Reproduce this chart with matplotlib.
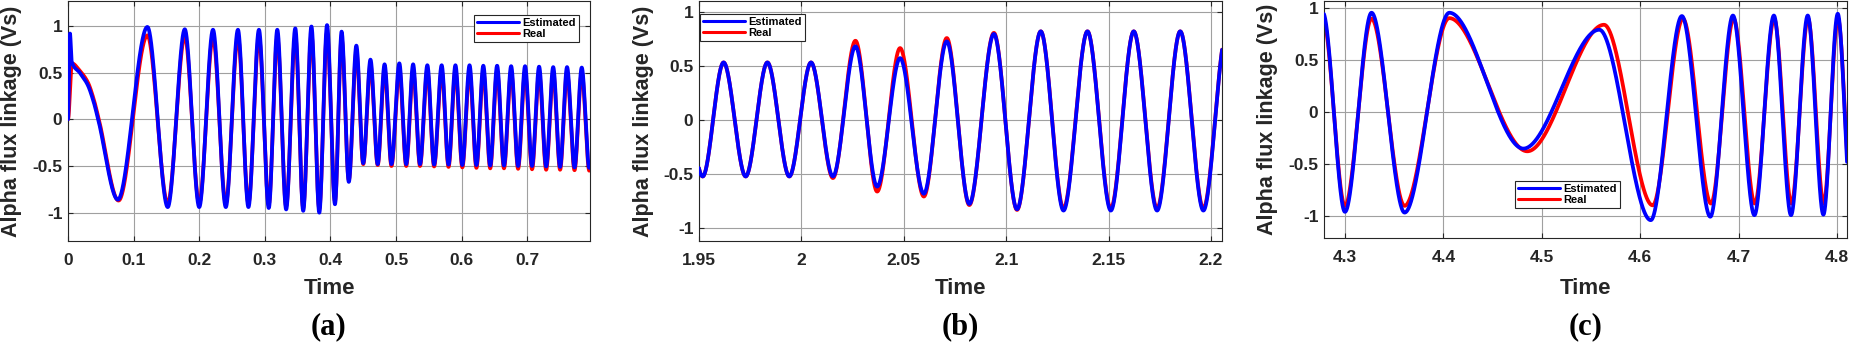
import numpy as np
import matplotlib
matplotlib.use("Agg")
import matplotlib.pyplot as plt

# ---------------- data (extrema / key points) ----------------
# Panel (a)
a_est_t = [0.0, 0.003, 0.0056, 0.018, 0.030, 0.039, 0.046, 0.076,
           0.121, 0.152, 0.178, 0.200, 0.221, 0.2405, 0.259, 0.275, 0.291, 0.306, 0.319, 0.3325,
           0.3464, 0.3585, 0.371, 0.383, 0.3948, 0.4069, 0.417, 0.428, 0.4395, 0.450, 0.461, 0.472,
           0.4825, 0.493,
           0.505, 0.5155, 0.526, 0.5365, 0.5477, 0.558, 0.5695, 0.580, 0.5905, 0.601, 0.612, 0.6225,
           0.633, 0.6435, 0.654, 0.6645, 0.6754, 0.686, 0.6966, 0.7073, 0.718, 0.7288, 0.7395, 0.750,
           0.7606, 0.772, 0.783, 0.7945, 0.806]
a_est_v = [0.0, 0.92, 0.62, 0.50, 0.37, 0.19, 0.0, -0.86,
           0.99, -0.94, 0.965, -0.94, 0.96, -0.94, 0.96, -0.94, 0.96, -0.95, 0.96, -0.965,
           0.975, -0.98, 0.995, -1.0, 1.01, -0.91, 0.94, -0.67, 0.79, -0.47, 0.64, -0.48,
           0.59, -0.48,
           0.60, -0.48, 0.59, -0.48, 0.58, -0.485, 0.58, -0.485, 0.58, -0.49, 0.58, -0.49,
           0.575, -0.495, 0.575, -0.495, 0.57, -0.50, 0.57, -0.50, 0.565, -0.505, 0.56, -0.51,
           0.56, -0.515, 0.555, -0.52, 0.55]
a_real_t = [0.0, 0.006, 0.018, 0.030, 0.039, 0.047, 0.077,
            0.121, 0.152, 0.178, 0.200, 0.221, 0.2405, 0.259, 0.275, 0.291, 0.306, 0.319, 0.3325,
            0.3464, 0.3585, 0.371, 0.383, 0.3948, 0.4069, 0.417, 0.428, 0.4395, 0.450, 0.461, 0.472,
            0.4825, 0.493,
            0.505, 0.5155, 0.526, 0.5365, 0.5477, 0.558, 0.5695, 0.580, 0.5905, 0.601, 0.612, 0.6225,
            0.633, 0.6435, 0.654, 0.6645, 0.6754, 0.686, 0.6966, 0.7073, 0.718, 0.7288, 0.7395, 0.750,
            0.7606, 0.772, 0.783, 0.7945, 0.806]
a_real_v = [0.0, 0.60, 0.52, 0.40, 0.22, 0.0, -0.87,
            0.90, -0.90, 0.89, -0.90, 0.88, -0.90, 0.88, -0.90, 0.88, -0.91, 0.88, -0.93,
            0.89, -0.95, 0.91, -0.96, 0.93, -0.88, 0.87, -0.65, 0.72, -0.48, 0.58, -0.49,
            0.53, -0.50,
            0.53, -0.50, 0.52, -0.50, 0.52, -0.505, 0.52, -0.51, 0.52, -0.515, 0.51, -0.52,
            0.51, -0.525, 0.51, -0.525, 0.51, -0.53, 0.50, -0.535, 0.50, -0.54, 0.50, -0.54,
            0.50, -0.545, 0.50, -0.55, 0.49]

# Panel (b)
b_t = [1.9407, 1.9518, 1.962, 1.9728, 1.9834, 1.9941, 2.0047, 2.0154, 2.0264, 2.037, 2.0482,
       2.0598, 2.071, 2.082, 2.094, 2.1053, 2.1169, 2.128, 2.1397, 2.1511, 2.1623, 2.1737,
       2.185, 2.1963, 2.2077]
b_est_v = [0.536, -0.52, 0.536, -0.52, 0.536, -0.52, 0.536, -0.52, 0.685, -0.614, 0.576,
           -0.68, 0.731, -0.775, 0.80, -0.824, 0.824, -0.836, 0.824, -0.836, 0.824, -0.836,
           0.824, -0.836, 0.824]
b_real_v = [0.536, -0.52, 0.536, -0.52, 0.536, -0.52, 0.536, -0.535, 0.737, -0.66, 0.669,
            -0.706, 0.762, -0.785, 0.81, -0.83, 0.824, -0.815, 0.824, -0.815, 0.824, -0.815,
            0.824, -0.815, 0.824]

# Panel (c)
c_est_t = [4.254, 4.2775, 4.300, 4.327, 4.3606, 4.4061, 4.4813, 4.5585, 4.6108, 4.6424, 4.6713,
           4.6943, 4.7161, 4.7359, 4.7533, 4.7703, 4.7862, 4.8008, 4.815]
c_est_v = [-0.95, 0.96, -0.963, 0.957, -0.97, 0.957, -0.353, 0.793, -1.043, 0.925, -1.01,
           0.93, -0.995, 0.93, -0.995, 0.93, -0.99, 0.947, -0.99]
c_real_t = [4.254, 4.2775, 4.300, 4.327, 4.3606, 4.406, 4.4853, 4.5633, 4.6127, 4.6435, 4.672,
            4.695, 4.7165, 4.7362, 4.7537, 4.7706, 4.7865, 4.801, 4.815]
c_real_v = [-0.90, 0.905, -0.905, 0.90, -0.905, 0.905, -0.379, 0.841, -0.90, 0.90, -0.883,
            0.90, -0.883, 0.90, -0.883, 0.90, -0.88, 0.905, -0.88]

a_xticks = [0, 0.1, 0.2, 0.3, 0.4, 0.5, 0.6, 0.7]
a_xlabels = ["0", "0.1", "0.2", "0.3", "0.4", "0.5", "0.6", "0.7"]
b_xticks = [1.95, 2.0, 2.05, 2.1, 2.15, 2.2]
b_xlabels = ["1.95", "2", "2.05", "2.1", "2.15", "2.2"]
c_xticks = [4.3, 4.4, 4.5, 4.6, 4.7, 4.8]
c_xlabels = ["4.3", "4.4", "4.5", "4.6", "4.7", "4.8"]
yticks = [-1, -0.5, 0, 0.5, 1]
ylabels = ["-1", "-0.5", "0", "0.5", "1"]
legend_labels = ["Estimated", "Real"]
panel_tags = ["(a)", "(b)", "(c)"]


def smooth(tk, vk, n=6000):
    """Monotone cubic (PCHIP) rendering through the key points."""
    tk = np.asarray(tk, float)
    vk = np.asarray(vk, float)
    h = np.diff(tk)
    delta = np.diff(vk) / h
    d = np.zeros_like(vk)
    for k in range(1, len(tk) - 1):
        if delta[k - 1] * delta[k] > 0:
            w1 = 2 * h[k] + h[k - 1]
            w2 = h[k] + 2 * h[k - 1]
            d[k] = (w1 + w2) / (w1 / delta[k - 1] + w2 / delta[k])
    ts = np.linspace(tk[0], tk[-1], n)
    idx = np.clip(np.searchsorted(tk, ts, side="right") - 1, 0, len(h) - 1)
    s = (ts - tk[idx]) / h[idx]
    h00 = 2 * s**3 - 3 * s**2 + 1
    h10 = s**3 - 2 * s**2 + s
    h01 = -2 * s**3 + 3 * s**2
    h11 = s**3 - s**2
    v = (h00 * vk[idx] + h10 * h[idx] * d[idx] + h01 * vk[idx + 1]
         + h11 * h[idx] * d[idx + 1])
    return ts, v


plt.rcParams["font.family"] = ["Liberation Sans", "DejaVu Sans"]
plt.rcParams["axes.unicode_minus"] = False

W, H = 1850, 344
fig = plt.figure(figsize=(W / 100, H / 100), dpi=100)
TXT = "#262626"


def add_ax(l, t, r, b):
    return fig.add_axes([l / W, 1 - b / H, (r - l) / W, (b - t) / H])


panels = [
    dict(box=(68, 1, 590, 240.7), xlim=(0, 0.7956), ylim=(-1.30, 1.268),
         est=(a_est_t, a_est_v), real=(a_real_t, a_real_v),
         xt=a_xticks, xl=a_xlabels,
         leg=dict(loc="upper left", bbox_to_anchor=(0.778, 0.942))),
    dict(box=(699, 1, 1222, 240.7), xlim=(1.95, 2.2054), ylim=(-1.115, 1.105),
         est=(b_t, b_est_v), real=(b_t, b_real_v),
         xt=b_xticks, xl=b_xlabels,
         leg=dict(loc="upper left", bbox_to_anchor=(0.002, 0.946))),
    dict(box=(1324, 0.5, 1847, 238.3), xlim=(4.2787, 4.8102), ylim=(-1.218, 1.075),
         est=(c_est_t, c_est_v), real=(c_real_t, c_real_v),
         xt=c_xticks, xl=c_xlabels,
         leg=dict(loc="lower left", bbox_to_anchor=(0.365, 0.127))),
]

for i, p in enumerate(panels):
    l, t, r, b = p["box"]
    ax = add_ax(l, t, r, b)
    ts, vs = smooth(*p["real"])
    lr, = ax.plot(ts, vs, color="#ff0000", lw=2.7, solid_capstyle="round", zorder=2)
    ts, vs = smooth(*p["est"])
    lb, = ax.plot(ts, vs, color="#0000ff", lw=2.7, solid_capstyle="round", zorder=3)
    ax.set_xlim(*p["xlim"])
    ax.set_ylim(*p["ylim"])
    ax.set_xticks(p["xt"])
    ax.set_xticklabels(p["xl"])
    ax.set_yticks(yticks)
    ax.set_yticklabels(ylabels)
    ax.grid(True, color="#a0a0a0", lw=0.8)
    ax.set_axisbelow(True)
    ax.tick_params(direction="in", length=3.6, width=0.8, top=True, right=True,
                   colors=TXT, labelsize=12.5)
    ax.tick_params(axis="x", pad=8.5)
    ax.tick_params(axis="y", pad=4)
    for lab in ax.get_xticklabels() + ax.get_yticklabels():
        lab.set_fontweight("bold")
    for sp in ax.spines.values():
        sp.set_color(TXT)
        sp.set_linewidth(0.8)
    leg = ax.legend([lb, lr], legend_labels, borderaxespad=0,
                    prop={"weight": "bold", "size": 8}, handlelength=3.8,
                    handletextpad=0.3, borderpad=0.25, labelspacing=0.1,
                    fancybox=False, framealpha=1, edgecolor=TXT, **p["leg"])
    leg.get_frame().set_linewidth(0.8)
    for hl in leg.get_lines():
        hl.set_linewidth(2.2)

    cx = (l + r) / 2
    cy = (t + b) / 2
    fig.text((l - 56) / W, 1 - cy / H, "Alpha flux linkage (Vs)", rotation=90,
             ha="center", va="center", fontsize=15.5, fontweight="bold", color=TXT)
    fig.text(cx / W, 1 - 289 / H, "Time", ha="center", va="center",
             fontsize=16, fontweight="bold", color=TXT)
    fig.text(cx / W, 1 - 327 / H, panel_tags[i], ha="center", va="center",
             fontsize=22, fontweight="bold", family=["Liberation Serif", "DejaVu Serif"],
             color="black")

fig.savefig("out.png", dpi=100, facecolor="white")
